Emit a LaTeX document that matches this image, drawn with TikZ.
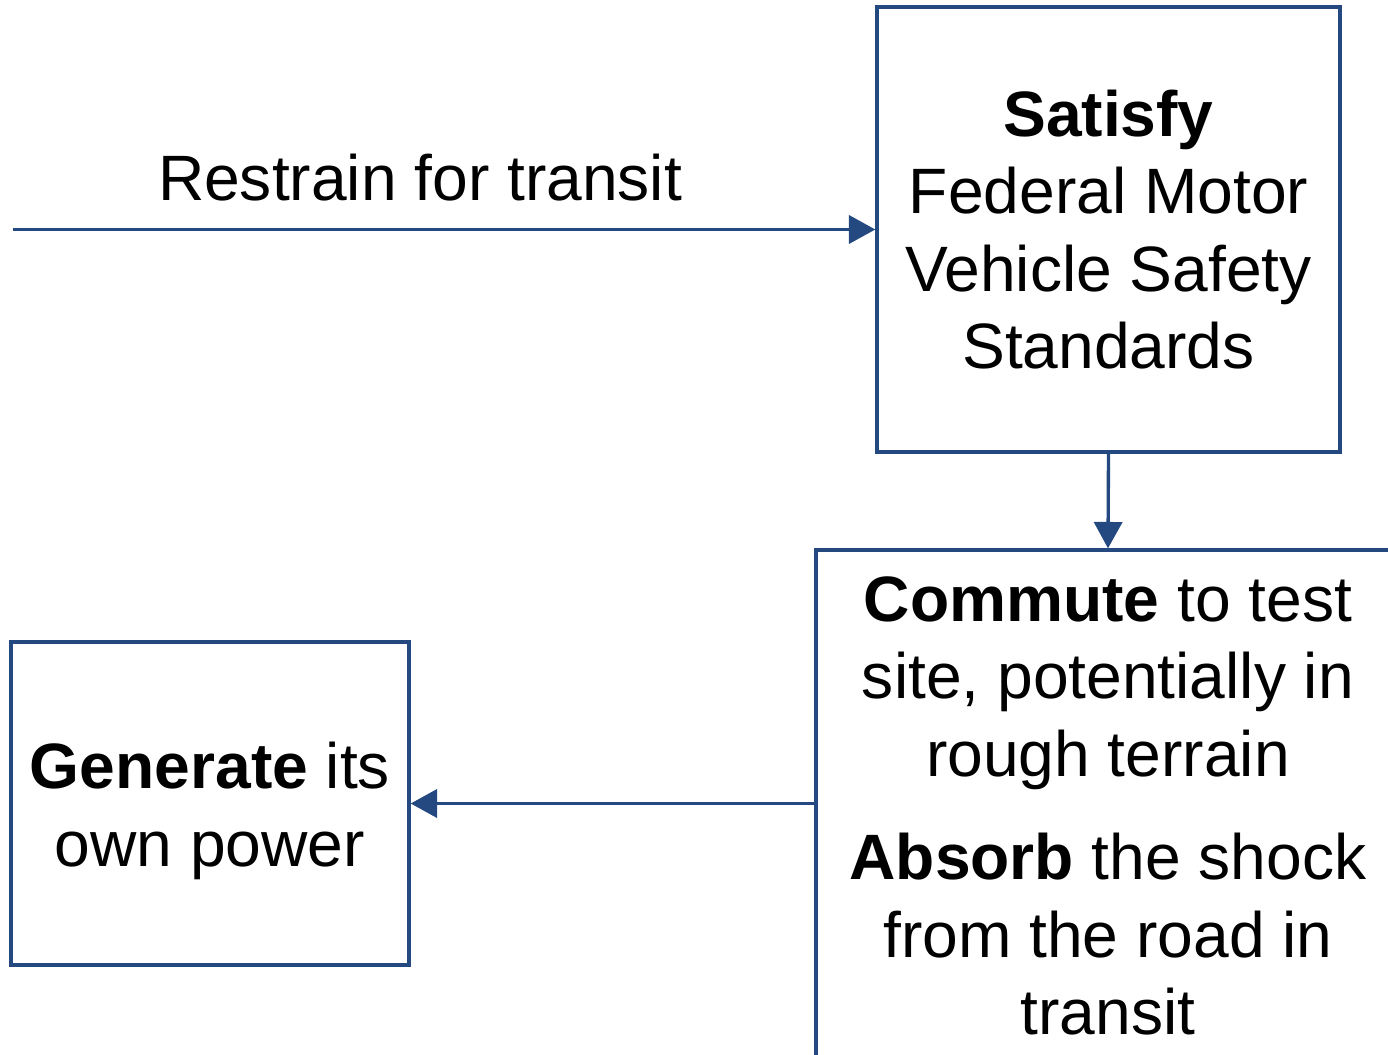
\documentclass[tikz,border=0pt]{standalone}
\usepackage{fontspec}
\setmainfont{Liberation Sans}
\usetikzlibrary{arrows.meta}
\definecolor{linkblue}{RGB}{36,72,128}
\pgfdeclarelayer{edgelayer}
\pgfdeclarelayer{nodelayer}
\pgfsetlayers{edgelayer,nodelayer,main}
\tikzstyle{none}=[inner sep=0pt]
\tikzstyle{label}=[inner sep=0pt,font=\fontsize{36.5}{44}\selectfont]
\tikzstyle{goal}=[rectangle,draw=linkblue,line width=1.9pt,inner sep=0pt,align=center,font=\fontsize{36.5}{44}\selectfont]
\tikzstyle{flow}=[-{Triangle[length=15pt,width=16pt]},draw=linkblue,line width=1.9pt]

\begin{document}
\begin{tikzpicture}
	\useasboundingbox (0, 0) rectangle (27.76, -21.1);
	\begin{pgfonlayer}{nodelayer}
		\node [style=goal, minimum width=9.26cm, minimum height=8.9cm] (0) at (22.17, -4.59) {\textbf{Satisfy}\\Federal Motor\\Vehicle Safety\\Standards};
		\node [style=goal, minimum width=11.68cm, minimum height=10.24cm] (1) at (22.16, -16.12) {\textbf{Commute} to test\\site, potentially in\\rough terrain\\[15pt]\textbf{Absorb} the shock\\from the road in\\transit};
		\node [style=goal, minimum width=7.96cm, minimum height=6.46cm] (2) at (4.2, -16.07) {\rule{0pt}{35pt}\textbf{Generate} its\\own power};
		\node [style=none] (3) at (0.26, -4.59) {};
		\node [style=label, anchor=base] (4) at (8.4, -4.0) {Restrain for transit};
	\end{pgfonlayer}
	\begin{pgfonlayer}{edgelayer}
		\draw [style=flow] (3.center) to (0.west);
		\draw [style=flow] (0.south) to (1.north);
		\draw [style=flow] (1.west |- 2.east) to (2.east);
	\end{pgfonlayer}
\end{tikzpicture}
\end{document}
